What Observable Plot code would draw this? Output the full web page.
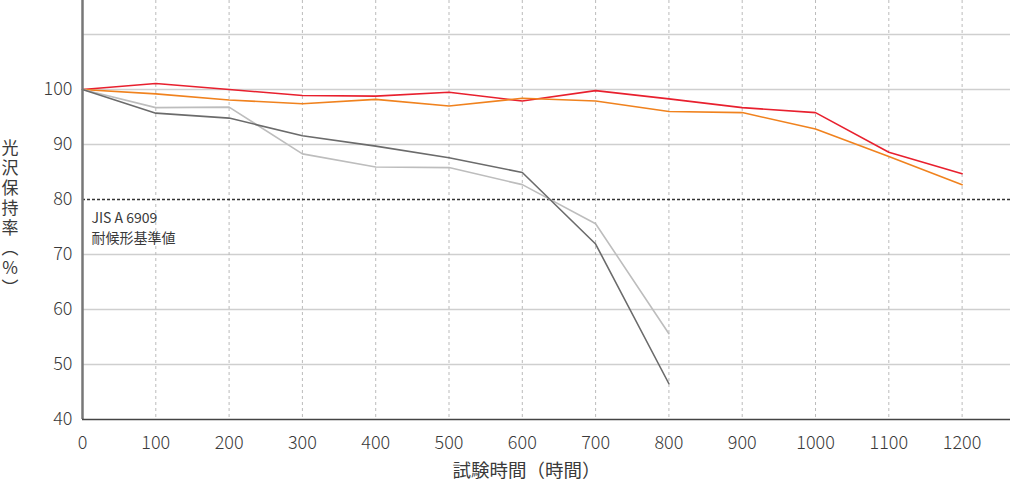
<!DOCTYPE html>
<html><head><meta charset="utf-8">
<script src="https://cdn.jsdelivr.net/npm/d3@7"></script>
<script src="https://cdn.jsdelivr.net/npm/@observablehq/plot@0.6"></script>
<style>
body{margin:0;background:#fff;}
#chart svg{font-family:"Noto Sans CJK JP","Noto Sans",sans-serif;}
#chart svg g[aria-label$="tick label"] text{font-family:"Noto Sans CJK JP",Lato,sans-serif;font-size:18px;font-weight:300;}
#chart svg text.ylab{writing-mode:vertical-rl;text-orientation:upright;letter-spacing:3px;}
</style>
</head><body><div id="chart"></div>
<script>
const hours = [0,100,200,300,400,500,600,700,800,900,1000,1100,1200];
const redValues    = [100,101.1,100.0,98.9,98.8,99.5,97.9,99.8,98.3,96.7,95.8,88.6,84.7];
const orangeValues = [100,99.2,98.1,97.4,98.2,97.0,98.4,97.9,96.0,95.8,92.8,87.8,82.7];
const darkValues   = [100,95.7,94.8,91.6,89.7,87.6,84.9,71.9,46.5];
const lightValues  = [100,96.7,96.8,88.3,85.9,85.8,82.7,75.6,55.6];
const xTicks = [0,100,200,300,400,500,600,700,800,900,1000,1100,1200];
const yTicks = [40,50,60,70,80,90,100];
const yGrid = [50,60,70,90,100,110];
const standardValue = 80;
const standardLabel = "JIS A 6909\n耐候形基準値";
const xLabel = "試験時間（時間）";
const yLabel = "光沢保持率（%）";

const series = [
  {name:"red", color:"#e8202e", values:redValues},
  {name:"orange", color:"#f0821e", values:orangeValues},
  {name:"light", color:"#bdbdbd", values:lightValues},
  {name:"dark", color:"#6b6b6b", values:darkValues}
];
const rows = series.flatMap(s => s.values.map((v,i)=>({name:s.name, color:s.color, x:hours[i], y:v})));

const chart = Plot.plot({
  width:1012, height:484,
  marginLeft:82, marginRight:2, marginTop:0, marginBottom:65,
  style:{fontSize:"16px", color:"#3a3a3a", fontFamily:'"Noto Sans CJK JP","Noto Sans",sans-serif'},
  x:{domain:[0,1266], ticks:xTicks, tickSize:0, tickPadding:17, tickFormat:d=>String(d), label:null},
  y:{domain:[40,116.18], ticks:yTicks, tickSize:0, tickPadding:10, label:null},
  marks:[
    Plot.gridY(yGrid, {stroke:"#cfcfcf", strokeOpacity:1, strokeWidth:1.5}),
    Plot.ruleX(xTicks.filter(d=>d>0), {stroke:"#bbb", strokeDasharray:"3,3", strokeWidth:1}),
    Plot.ruleY([standardValue], {stroke:"#333", strokeDasharray:"3,2", strokeWidth:1.5}),
    Plot.line(rows, {x:"x", y:"y", z:"name", stroke:"color", strokeWidth:1.6}),
    Plot.ruleX([0], {stroke:"#777", strokeWidth:2.5}),
    Plot.ruleY([40], {stroke:"#444", strokeWidth:1.5}),
    Plot.text([standardLabel], {x:0, y:standardValue, text:d=>d, textAnchor:"start", lineAnchor:"top", dx:9, dy:10, fontSize:14, fill:"#3a3a3a", lineHeight:1.4}),
    Plot.text([yLabel], {frameAnchor:"left", text:d=>d, textAnchor:"middle", dx:-72.5, dy:4, fontSize:17, fill:"#3a3a3a", className:"ylab"}),
    Plot.text([xLabel], {frameAnchor:"bottom", lineAnchor:"middle", text:d=>d, dx:-20, dy:52, fontSize:18.5, fill:"#3a3a3a"})
  ]
});
chart.querySelectorAll("g.ylab text").forEach(t=>t.classList.add("ylab"));
document.getElementById("chart").appendChild(chart);
</script>
</body></html>
